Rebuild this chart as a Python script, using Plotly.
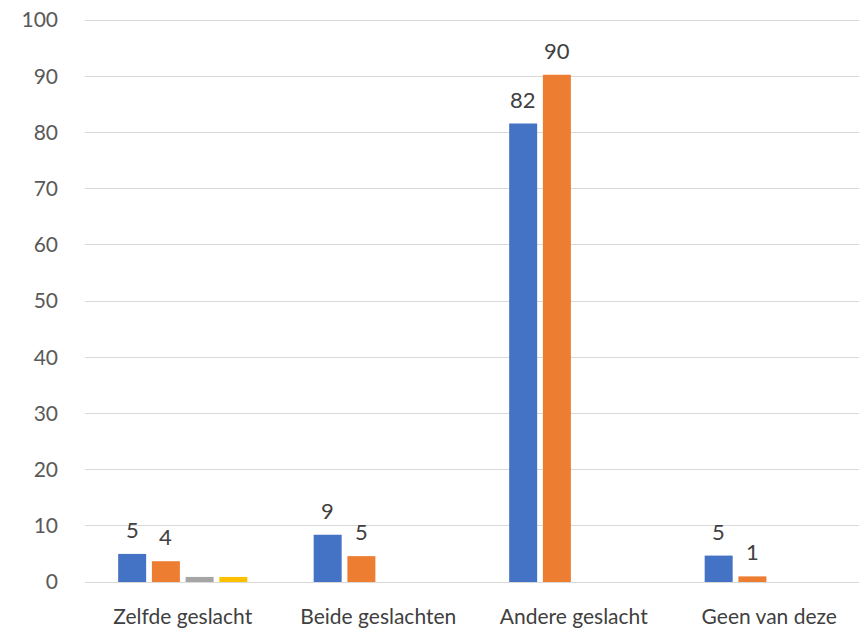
import plotly.graph_objects as go

categories = ["Zelfde geslacht", "Beide geslachten", "Andere geslacht", "Geen van deze"]
series1 = [5.0, 8.4, 81.6, 4.7]
series2 = [3.7, 4.6, 90.3, 1.0]
series3 = [0.9, None, None, None]
series4 = [0.9, None, None, None]
labels1 = ["5", "9", "82", "5"]
labels2 = ["4", "5", "90", "1"]

colors = ["#4472C4", "#ED7D31", "#A5A5A5", "#FFC000"]
fnt = "Lato, 'Noto Sans', sans-serif"
bargap = 0.31
nseries = 4

fig = go.Figure()
all_series = [(series1, labels1, colors[0]), (series2, labels2, colors[1]),
              (series3, None, colors[2]), (series4, None, colors[3])]
for vals, lab, col in all_series:
    fig.add_trace(go.Bar(
        x=categories, y=vals, marker=dict(color=col, line=dict(width=0)),
        showlegend=False, cliponaxis=False,
    ))

# data labels placed above the bars of the grouped layout
slot = (1 - bargap) / nseries
for k, (vals, lab, col) in enumerate(all_series):
    if not lab:
        continue
    off = -(1 - bargap) / 2 + slot * (k + 0.5)
    for i, (v, t) in enumerate(zip(vals, lab)):
        fig.add_annotation(x=i + off, y=v, xref="x", yref="y", text=t,
                           showarrow=False, yanchor="bottom", yshift=9,
                           font=dict(size=22, color="#404040", family=fnt))

fig.update_layout(
    width=867, height=635,
    margin=dict(l=77, r=8, t=11, b=61, autoexpand=False),
    paper_bgcolor="white", plot_bgcolor="white",
    barmode="group", bargap=bargap, bargroupgap=0.17,
    font=dict(family=fnt, size=21, color="#595959"),
)
fig.update_yaxes(range=[0, 100.2], tick0=0, dtick=10, showgrid=True, gridcolor="#D9D9D9",
                 gridwidth=1, zeroline=False, showline=False, ticks="",
                 automargin=False, ticklabeloverflow="allow",
                 tickfont=dict(size=21, color="#595959", family=fnt), ticklabelstandoff=26)
fig.update_xaxes(showline=True, linecolor="#D9D9D9", linewidth=1, ticks="",
                 automargin=False,
                 tickfont=dict(size=21, color="#404040", family=fnt), ticklabelstandoff=16)

fig.write_html("out.html")
